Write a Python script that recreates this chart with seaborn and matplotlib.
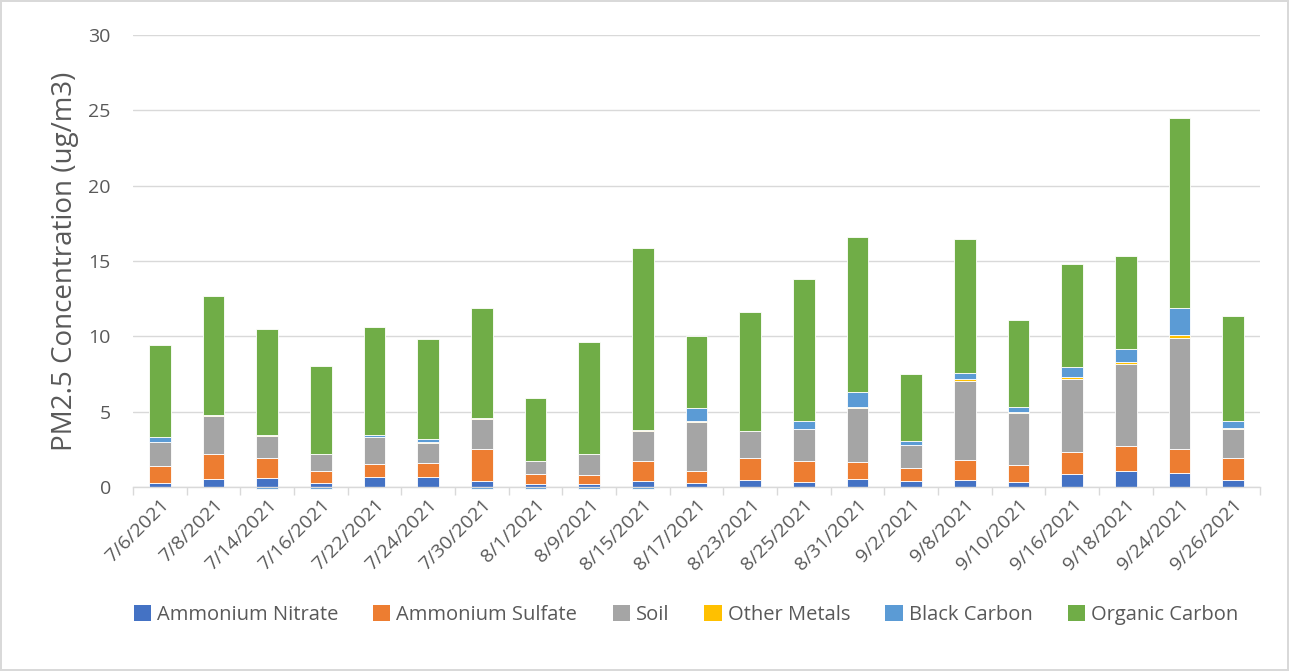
"""
PM2.5 speciation - stacked bar chart by sampling date.
"""

import numpy as np
import pandas as pd
import matplotlib
matplotlib.use("Agg")
import matplotlib.pyplot as plt
import seaborn as sns

sns.set_theme(style="white")
plt.rcParams["font.family"] = ["Open Sans", "DejaVu Sans"]

dates = ["7/6/2021", "7/8/2021", "7/14/2021", "7/16/2021", "7/22/2021", "7/24/2021",
         "7/30/2021", "8/1/2021", "8/9/2021", "8/15/2021", "8/17/2021", "8/23/2021",
         "8/25/2021", "8/31/2021", "9/2/2021", "9/8/2021", "9/10/2021", "9/16/2021",
         "9/18/2021", "9/24/2021", "9/26/2021"]

ammonium_nitrate = [0.28, 0.50, 0.58, 0.29, 0.64, 0.68, 0.42, 0.20, 0.21, 0.38, 0.29,
                    0.46, 0.33, 0.51, 0.42, 0.48, 0.35, 0.88, 1.08, 0.93, 0.44]
ammonium_sulfate = [1.11, 1.69, 1.32, 0.77, 0.86, 0.91, 2.08, 0.68, 0.61, 1.37, 0.75,
                    1.46, 1.39, 1.17, 0.84, 1.29, 1.11, 1.46, 1.66, 1.57, 1.51]
soil = [1.58, 2.54, 1.50, 1.13, 1.80, 1.35, 1.99, 0.84, 1.37, 1.99, 3.25,
        1.80, 2.11, 3.54, 1.53, 5.26, 3.43, 4.85, 5.40, 7.37, 1.88]
other_metals = [0.02, 0.07, 0.02, 0.02, 0.03, 0.02, 0.06, 0.02, 0.02, 0.06, 0.09,
                0.02, 0.02, 0.11, 0.02, 0.14, 0.06, 0.13, 0.15, 0.20, 0.07]
black_carbon = [0.31, 0.00, -0.12, -0.15, 0.12, 0.21, -0.12, -0.15, -0.12, -0.12, 0.88,
                0.00, 0.51, 0.95, 0.22, 0.37, 0.34, 0.62, 0.89, 1.79, 0.46]
organic_carbon = [6.10, 7.90, 7.08, 5.79, 7.15, 6.63, 7.35, 4.16, 7.39, 12.05, 4.79,
                  7.86, 9.44, 10.32, 4.47, 8.89, 5.77, 6.84, 6.15, 12.64, 6.99]

species = ["Ammonium Nitrate", "Ammonium Sulfate", "Soil", "Other Metals",
           "Black Carbon", "Organic Carbon"]
colors = ["#4472C4", "#ED7D31", "#A5A5A5", "#FFC000", "#5B9BD5", "#70AD47"]

df = pd.DataFrame({
    "date": dates,
    "Ammonium Nitrate": ammonium_nitrate,
    "Ammonium Sulfate": ammonium_sulfate,
    "Soil": soil,
    "Other Metals": other_metals,
    "Black Carbon": black_carbon,
    "Organic Carbon": organic_carbon,
})

fig = plt.figure(figsize=(12.89, 6.71), dpi=100)
fig.patch.set_edgecolor("#D9D9D9")
fig.patch.set_linewidth(1.5)
ax = fig.add_axes([0.1032, 0.2742, 0.8743, 0.6736])

# Excel-style stacking: positives go up from 0, negatives go down from 0
pos_bottom = np.zeros(len(dates))
neg_bottom = np.zeros(len(dates))
for name, col in zip(species, colors):
    vals = df[name].to_numpy()
    pos = np.where(vals > 0, vals, 0)
    neg = np.where(vals < 0, vals, 0)
    sns.barplot(x=df["date"], y=pos, bottom=pos_bottom, color=col, width=0.4,
                saturation=1, edgecolor="white", linewidth=0.6, errorbar=None,
                ax=ax, label=name, legend=False)
    if (neg < 0).any():
        n_before = len(ax.patches)
        sns.barplot(x=df["date"], y=neg, bottom=neg_bottom, color=col, width=0.4,
                    saturation=1, edgecolor="white", linewidth=0.6, errorbar=None,
                    ax=ax, legend=False)
        for p in ax.patches[n_before:]:
            p.set_clip_on(False)
    pos_bottom += pos
    neg_bottom += neg

if ax.get_legend() is not None:
    ax.get_legend().remove()

ax.set_ylim(0, 30)
ax.set_xlim(-0.5, len(dates) - 0.5)
ax.set_yticks(range(0, 31, 5))
ax.yaxis.grid(True, color="#D9D9D9", linewidth=1)
ax.set_axisbelow(True)
for s in ["top", "right", "left"]:
    ax.spines[s].set_visible(False)
ax.spines["bottom"].set_color("#D9D9D9")
ax.spines["bottom"].set_linewidth(1)

ax.set_xticks(np.arange(-0.5, len(dates), 1), minor=True)
ax.tick_params(axis="x", which="minor", length=6, color="#D9D9D9", width=1, bottom=True)
ax.tick_params(axis="x", which="major", length=0, pad=6)
ax.tick_params(axis="y", length=0, pad=16)
ax.set_xticks(range(len(dates)))
ax.set_xticklabels(dates, rotation=45, ha="right", rotation_mode="anchor",
                   fontsize=14, color="#595959")
for lbl in ax.get_yticklabels():
    lbl.set_fontsize(14)
    lbl.set_color("#595959")

ax.set_xlabel("")
ax.set_ylabel("PM2.5 Concentration (ug/m3)", fontsize=20, color="#595959", labelpad=7)

handles = [plt.Rectangle((0, 0), 1, 1, facecolor=c, edgecolor="none") for c in colors]
fig.legend(handles, species, loc="center", bbox_to_anchor=(0.532, 0.083), ncol=6,
           frameon=False, fontsize=14.5, handlelength=0.85, handleheight=0.85,
           handletextpad=0.3, columnspacing=1.75, labelcolor="#595959")

fig.savefig("out.png", dpi=100, edgecolor=fig.get_edgecolor())
